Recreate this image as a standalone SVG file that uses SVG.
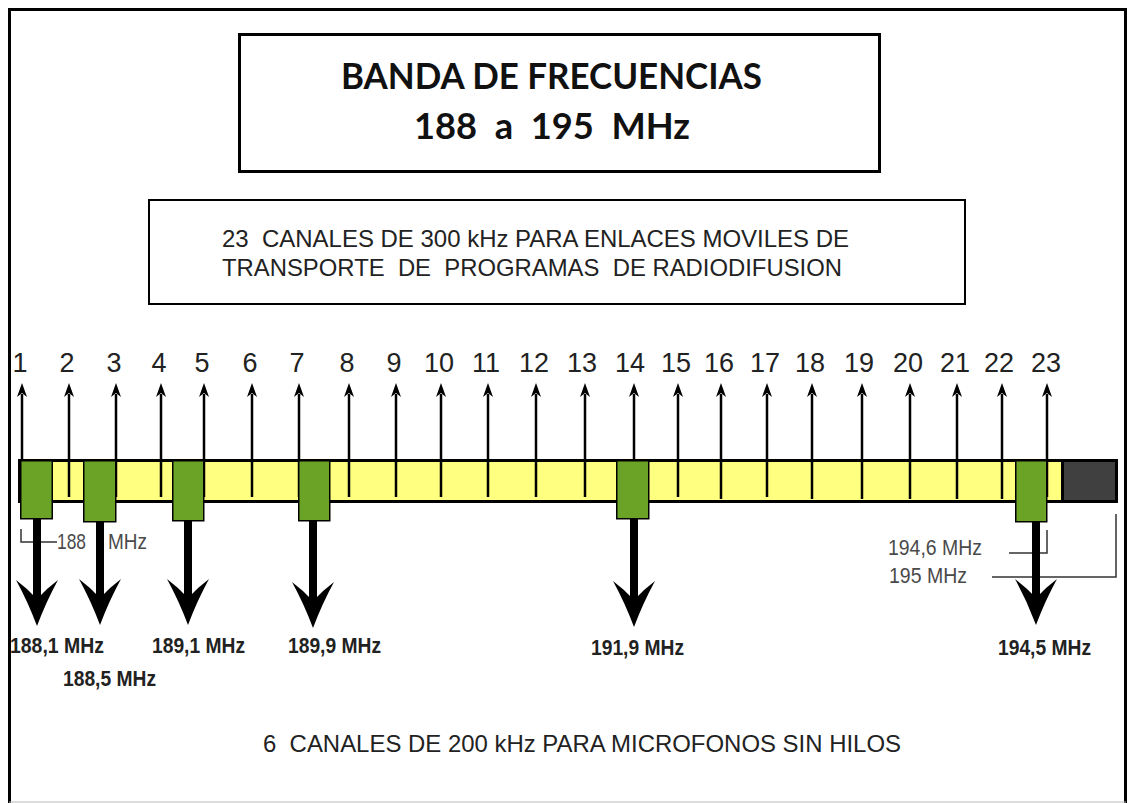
<svg xmlns="http://www.w3.org/2000/svg" width="1127" height="803" viewBox="0 0 1127 803" xml:space="preserve">
<style>
  text{white-space:pre}
  .frame{fill:none;stroke:#000;stroke-width:3}
  .box{fill:#fff;stroke:#000}
  .title{font-family:Lato,"Liberation Sans",sans-serif;font-weight:700;font-size:37px;fill:#111}
  .sub{font-family:"Liberation Sans",Arial,sans-serif;font-size:24px;fill:#222}
  .num{font-family:"Liberation Sans",Arial,sans-serif;font-size:27px;fill:#222;text-anchor:middle}
  .freq{font-family:"Liberation Sans",Arial,sans-serif;font-size:22px;font-weight:700;fill:#222}
  .gray{font-family:"Liberation Sans",Arial,sans-serif;font-size:22px;fill:#4a4a4a}
  .tick{stroke:#000;stroke-width:2.5;fill:none;marker-end:url(#up)}
  .green{fill:#6ba326;stroke:#000;stroke-width:1.5}
  .stem{fill:#000}
  .brk{fill:none;stroke:#333;stroke-width:1.5}
</style>
<defs>
  <marker id="up" markerUnits="userSpaceOnUse" viewBox="-4 -6 16 12" refX="0" refY="0" markerWidth="16" markerHeight="12" orient="auto">
    <path d="M11,0 L-3,-5 L1,0 L-3,5 Z" fill="#000"/>
  </marker>
  <path id="bigHead" d="M0,46 Q-9,22 -21,0 Q-9,9 0,19 Q9,9 21,0 Q9,22 0,46 Z" fill="#000"/>
</defs>
<rect width="1127" height="803" fill="#fff"/>
<g id="frame">
  <path class="frame" d="M9.5,803 V9.5 H1125.5 V803"/>
  <line x1="9" y1="802" x2="1126" y2="802" stroke="#bbb" stroke-width="1"/>
</g>
<g id="title">
  <rect class="box" x="239.5" y="34.5" width="640" height="137" stroke-width="3"/>
  <text class="title" x="341" y="89" textLength="421" lengthAdjust="spacingAndGlyphs">BANDA DE FRECUENCIAS</text>
  <text class="title" x="414" y="139" textLength="276" lengthAdjust="spacingAndGlyphs">188  a  195  MHz</text>
</g>
<g id="subtitle">
  <rect class="box" x="149" y="200" width="816" height="104" stroke-width="2"/>
  <text class="sub" x="222" y="247" textLength="627" lengthAdjust="spacingAndGlyphs">23  CANALES DE 300 kHz PARA ENLACES MOVILES DE</text>
  <text class="sub" x="222" y="276" textLength="620" lengthAdjust="spacingAndGlyphs">TRANSPORTE  DE  PROGRAMAS  DE RADIODIFUSION</text>
</g>
<g id="channel-numbers">
  <text class="num" x="20" y="372">1</text>
  <text class="num" x="67" y="372">2</text>
  <text class="num" x="114" y="372">3</text>
  <text class="num" x="159" y="372">4</text>
  <text class="num" x="202" y="372">5</text>
  <text class="num" x="250" y="372">6</text>
  <text class="num" x="297" y="372">7</text>
  <text class="num" x="347" y="372">8</text>
  <text class="num" x="394" y="372">9</text>
  <text class="num" x="439" y="372">10</text>
  <text class="num" x="486" y="372">11</text>
  <text class="num" x="534" y="372">12</text>
  <text class="num" x="582" y="372">13</text>
  <text class="num" x="630" y="372">14</text>
  <text class="num" x="676" y="372">15</text>
  <text class="num" x="719" y="372">16</text>
  <text class="num" x="765" y="372">17</text>
  <text class="num" x="810" y="372">18</text>
  <text class="num" x="859" y="372">19</text>
  <text class="num" x="908" y="372">20</text>
  <text class="num" x="955" y="372">21</text>
  <text class="num" x="999" y="372">22</text>
  <text class="num" x="1046" y="372">23</text>
</g>
<g id="band-bar">
  <rect x="19.5" y="460.5" width="1043" height="41" fill="#ffff80" stroke="#000" stroke-width="3"/>
  <rect x="1062.5" y="460.5" width="54" height="41" fill="#404040" stroke="#000" stroke-width="3"/>
</g>
<g id="connectors">
  <line class="tick" x1="22" y1="497" x2="22" y2="394"/>
  <line class="tick" x1="69" y1="497" x2="69" y2="394"/>
  <line class="tick" x1="116" y1="497" x2="116" y2="394"/>
  <line class="tick" x1="161" y1="497" x2="161" y2="394"/>
  <line class="tick" x1="204" y1="497" x2="204" y2="394"/>
  <line class="tick" x1="252" y1="497" x2="252" y2="394"/>
  <line class="tick" x1="299" y1="497" x2="299" y2="394"/>
  <line class="tick" x1="349" y1="497" x2="349" y2="394"/>
  <line class="tick" x1="396" y1="497" x2="396" y2="394"/>
  <line class="tick" x1="441" y1="497" x2="441" y2="394"/>
  <line class="tick" x1="488" y1="497" x2="488" y2="394"/>
  <line class="tick" x1="536" y1="497" x2="536" y2="394"/>
  <line class="tick" x1="585" y1="497" x2="585" y2="394"/>
  <line class="tick" x1="634" y1="497" x2="634" y2="394"/>
  <line class="tick" x1="678" y1="497" x2="678" y2="394"/>
  <line class="tick" x1="721" y1="499" x2="721" y2="394"/>
  <line class="tick" x1="767" y1="497" x2="767" y2="394"/>
  <line class="tick" x1="812" y1="499" x2="812" y2="394"/>
  <line class="tick" x1="862" y1="499" x2="862" y2="394"/>
  <line class="tick" x1="910" y1="499" x2="910" y2="394"/>
  <line class="tick" x1="957" y1="499" x2="957" y2="394"/>
  <line class="tick" x1="1002" y1="499" x2="1002" y2="394"/>
  <line class="tick" x1="1047" y1="497" x2="1047" y2="394"/>
  <path class="brk" d="M21,529 V542 H57"/>
  <path class="brk" d="M1009,553 H1047 V530"/>
  <path class="brk" d="M992,577 H1116 V514"/>
</g>
<g id="mic-ch1">
  <rect class="green" x="20.75" y="460.75" width="31.5" height="58"/>
  <rect class="stem" x="33" y="519" width="8" height="82"/>
  <use href="#bigHead" x="37" y="580"/>
</g>
<g id="mic-ch2">
  <rect class="green" x="83.75" y="460.75" width="32" height="61"/>
  <rect class="stem" x="96" y="522" width="8" height="78"/>
  <use href="#bigHead" x="100" y="579"/>
</g>
<g id="mic-ch3">
  <rect class="green" x="172.75" y="460.75" width="31" height="60"/>
  <rect class="stem" x="184" y="521" width="8" height="79"/>
  <use href="#bigHead" x="188" y="579"/>
</g>
<g id="mic-ch4">
  <rect class="green" x="298.75" y="460.75" width="31" height="60"/>
  <rect class="stem" x="309" y="521" width="8" height="82"/>
  <use href="#bigHead" x="313" y="582"/>
</g>
<g id="mic-ch5">
  <rect class="green" x="616.75" y="460.75" width="32" height="58"/>
  <rect class="stem" x="630" y="519" width="8" height="82"/>
  <use href="#bigHead" x="634" y="581"/>
</g>
<g id="mic-ch6">
  <rect class="green" x="1015.75" y="460.75" width="31" height="61"/>
  <rect class="stem" x="1032" y="522" width="8" height="78"/>
  <use href="#bigHead" x="1036" y="579"/>
</g>
<g id="freq-labels">
  <text class="freq" x="10" y="653" textLength="94" lengthAdjust="spacingAndGlyphs">188,1 MHz</text>
  <text class="freq" x="63" y="686" textLength="93" lengthAdjust="spacingAndGlyphs">188,5 MHz</text>
  <text class="freq" x="152" y="653" textLength="93" lengthAdjust="spacingAndGlyphs">189,1 MHz</text>
  <text class="freq" x="288" y="653" textLength="93" lengthAdjust="spacingAndGlyphs">189,9 MHz</text>
  <text class="freq" x="591" y="655" textLength="93" lengthAdjust="spacingAndGlyphs">191,9 MHz</text>
  <text class="freq" x="998" y="655" textLength="93" lengthAdjust="spacingAndGlyphs">194,5 MHz</text>
</g>
<g id="edge-labels">
  <text class="gray" y="549"><tspan x="57" textLength="29" lengthAdjust="spacingAndGlyphs">188</tspan><tspan x="108" textLength="39" lengthAdjust="spacingAndGlyphs">MHz</tspan></text>
  <text class="gray" x="888" y="555" textLength="94" lengthAdjust="spacingAndGlyphs">194,6 MHz</text>
  <text class="gray" x="889" y="583" textLength="78" lengthAdjust="spacingAndGlyphs">195 MHz</text>
</g>
<g id="footer">
  <text class="sub" x="263" y="752" textLength="638" lengthAdjust="spacingAndGlyphs">6  CANALES DE 200 kHz PARA MICROFONOS SIN HILOS</text>
</g>
</svg>
